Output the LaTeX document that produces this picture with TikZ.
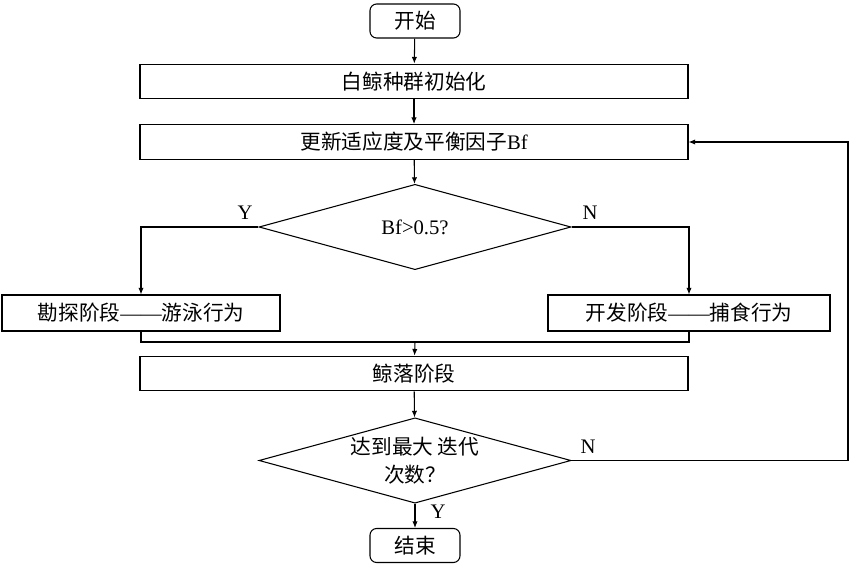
\documentclass[tikz,border=0pt]{standalone}
\usepackage{fontspec}
\setmainfont{Liberation Serif}
\newfontfamily\cjk{Noto Sans CJK SC}
\usetikzlibrary{arrows.meta,shapes.geometric}

\begin{document}
\begin{tikzpicture}[
    x=0.75pt, y=-0.75pt,
    line width=0.8pt,
    every node/.style={align=center, font=\fontsize{15.5}{21}\selectfont},
    terminal/.style={rectangle, draw, rounded corners=5pt,
                     minimum width=67.5pt, minimum height=25.5pt,
                     inner sep=0pt},
    process/.style={rectangle, draw, minimum width=411pt,
                    minimum height=26pt, inner sep=0pt},
    phase/.style={rectangle, draw, minimum height=27pt, inner sep=0pt},
    decision/.style={diamond, draw, aspect=3.67, inner sep=0pt,
                     minimum width=234pt, minimum height=64pt},
    label/.style={inner sep=0pt},
    arrow/.style={draw, -{Latex[length=5pt,width=4pt]}},
]
\useasboundingbox (0,0) rectangle (849,570);

% main column
\node [terminal] (start) at (415,21) {\cjk 开始};
\node [process] (init) at (414,81.5) {\cjk 白鲸种群初始化};
\node [process] (update) at (414,142) {{\cjk 更新适应度及平衡因子}Bf};
\node [decision] (judge) at (415,227) {Bf>0.5?};
\node [phase, minimum width=208.5pt] (explore) at (141,313)
      {{\cjk 勘探阶段}——{\cjk 游泳行为}};
\node [phase, minimum width=211.5pt] (exploit) at (689,313)
      {{\cjk 开发阶段}——{\cjk 捕食行为}};
\node [process] (fall) at (414,373.5) {\cjk 鲸落阶段};
\node [decision] (maxiter) at (415,460.5)
      {\cjk 达到最大 迭代\\\cjk 次数？};
\node [terminal] (stop) at (415,545.5) {\cjk 结束};

\coordinate (join) at (415,342);
\coordinate (back) at (848,460.5);

% connectors
\draw [arrow] (start) -- (init);
\draw [arrow] (init) -- (update);
\draw [arrow] (update) -- (judge);
\draw [arrow] (judge.west) -| (explore.north);
\draw [arrow] (judge.east) -| (exploit.north);
\draw (explore.south) |- (join) -| (exploit.south);
\draw [arrow] (join) -- (fall);
\draw [arrow] (fall) -- (maxiter);
\draw [arrow] (maxiter) -- (stop);
\draw [arrow] (maxiter.east) -- (back) |- (update.east);

% branch labels
\node [label] at (245,213) {Y};
\node [label] at (590,213) {N};
\node [label] at (588,447) {N};
\node [label] at (438,512) {Y};

\end{tikzpicture}
\end{document}
